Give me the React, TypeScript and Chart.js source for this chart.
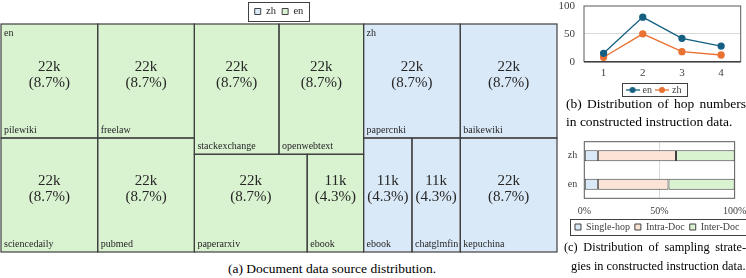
import React, { useEffect, useRef } from 'react';
import { Chart, registerables } from 'chart.js';

Chart.register(...registerables);

const FONT = "'Liberation Serif', 'Times New Roman', Times, serif";
const TEXT = '#262626';
const AXIS_TEXT = '#404040';
const EDGE = '#404040';

// ---------- (a) document data sources (thousands of documents) ----------
const languages = ['zh', 'en'];
const enSources = ['pilewiki', 'freelaw', 'sciencedaily', 'pubmed', 'stackexchange', 'openwebtext', 'paperarxiv', 'ebook'];
const enCounts = [22, 22, 22, 22, 22, 22, 22, 11];
const zhSources = ['papercnki', 'baikewiki', 'ebook', 'chatglmfin', 'kepuchina'];
const zhCounts = [22, 22, 11, 11, 22];

// split structure of each language group: direction, then children (leaf index or sub-tree)
type Tree = (string | number | Tree)[];
const enTree: Tree = ['x', ['y', ['x', 0, 1], ['x', 2, 3]], ['y', ['x', 4, 5], ['x', 6, 7]]];
const zhTree: Tree = ['y', ['x', 0, 1], ['x', 2, 3, 4]];

// ---------- (b) hop numbers ----------
const hopLabels = ['1', '2', '3', '4'];
const hopEn = [15, 80, 42, 28];
const hopZh = [8, 50, 18, 12];
const hopTicks = [0, 50, 100];

// ---------- (c) sampling strategies (%) ----------
const strategyLangs = ['zh', 'en'];
const singleHop = [9, 9];
const intraDoc = [52, 47];
const interDoc = [39, 44];

const EN_FILL = '#D9F2D0';
const ZH_FILL = '#DAE9F8';
const INTRA_FILL = '#FBE3D6';
const EN_LINE = '#156082';
const ZH_LINE = '#E97132';

interface Cell { name: string; value: number; lang: string; x0: number; y0: number; x1: number; y1: number; }

const sum = (a: number[]) => a.reduce((s, v) => s + v, 0);

function treeSum(node: any, counts: number[]): number {
  if (typeof node === 'number') return counts[node];
  return (node as any[]).slice(1).reduce((s: number, c: any) => s + treeSum(c, counts), 0);
}

function layoutTree(node: any, counts: number[], names: string[], lang: string,
  x0: number, y0: number, x1: number, y1: number, out: Cell[]) {
  if (typeof node === 'number') {
    out.push({ name: names[node], value: counts[node], lang, x0, y0, x1, y1 });
    return;
  }
  const dir = node[0];
  const kids = node.slice(1);
  const total = treeSum(node, counts);
  let acc = 0;
  kids.forEach((k: any) => {
    const v = treeSum(k, counts);
    const a = acc / total, b = (acc + v) / total;
    if (dir === 'x') layoutTree(k, counts, names, lang, x0 + (x1 - x0) * a, y0, x0 + (x1 - x0) * b, y1, out);
    else layoutTree(k, counts, names, lang, x0, y0 + (y1 - y0) * a, x1, y0 + (y1 - y0) * b, out);
    acc += v;
  });
}

function buildTreemap() {
  const enTotal = sum(enCounts), zhTotal = sum(zhCounts), total = enTotal + zhTotal;
  const split = enTotal / total;
  const cells: Cell[] = [];
  layoutTree(enTree, enCounts, enSources, 'en', 0, 0, split, 1, cells);
  layoutTree(zhTree, zhCounts, zhSources, 'zh', split, 0, 1, 1, cells);
  const groups = [{ lang: 'en', x0: 0, y0: 0 }, { lang: 'zh', x0: split, y0: 0 }];
  return { cells, groups, total };
}

const treemapPlugin = {
  id: 'treemapCells',
  afterDatasetsDraw(chart: any) {
    const { ctx } = chart;
    const xs = chart.scales.x, ys = chart.scales.y;
    const { cells, groups, total } = buildTreemap();
    const rects = cells.map(c => ({
      c,
      L: xs.getPixelForValue(c.x0), R: xs.getPixelForValue(c.x1),
      T: ys.getPixelForValue(c.y0), B: ys.getPixelForValue(c.y1),
    }));
    ctx.save();
    rects.forEach(({ c, L, R, T, B }) => {
      ctx.fillStyle = c.lang === 'en' ? EN_FILL : ZH_FILL;
      ctx.fillRect(L, T, R - L, B - T);
    });
    ctx.strokeStyle = EDGE;
    ctx.lineWidth = 1.2;
    rects.forEach(({ L, R, T, B }) => ctx.strokeRect(L, T, R - L, B - T));
    ctx.fillStyle = TEXT;
    ctx.textAlign = 'center';
    ctx.textBaseline = 'middle';
    ctx.font = `15px ${FONT}`;
    rects.forEach(({ c, L, R, T, B }) => {
      const cx = (L + R) / 2;
      const mid = Math.min(T + 51, B - 63);
      ctx.fillText(`${c.value}k`, cx, mid - 8);
      ctx.fillText(`(${((c.value / total) * 100).toFixed(1)}%)`, cx, mid + 8.5);
    });
    ctx.font = `10px ${FONT}`;
    ctx.textAlign = 'left';
    rects.forEach(({ c, L, B }) => ctx.fillText(c.name, L + 3, B - 8));
    groups.forEach(g => ctx.fillText(g.lang, xs.getPixelForValue(g.x0) + 3, ys.getPixelForValue(g.y0) + 9));
    ctx.restore();
  },
};

const legendFramePlugin = {
  id: 'legendFrame',
  afterDraw(chart: any, _args: any, opts: any) {
    const lg = chart.legend;
    if (!lg || !lg.legendHitBoxes || !lg.legendHitBoxes.length) return;
    const hb = lg.legendHitBoxes;
    const l = Math.min(...hb.map((h: any) => h.left)) - opts.padL;
    const r = Math.max(...hb.map((h: any) => h.left + h.width)) + opts.padR;
    const t = Math.min(...hb.map((h: any) => h.top)) - opts.padT;
    const b = Math.max(...hb.map((h: any) => h.top + h.height)) + opts.padB;
    const { ctx } = chart;
    ctx.save();
    ctx.strokeStyle = opts.color || '#404040';
    ctx.lineWidth = 1;
    ctx.strokeRect(Math.round(l) + 0.5, Math.round(t) + 0.5, Math.round(r - l), Math.round(b - t));
    ctx.restore();
  },
};

const plotFramePlugin = {
  id: 'plotFrame',
  beforeDatasetsDraw(chart: any, _args: any, opts: any) {
    const { ctx, chartArea: a } = chart;
    ctx.save();
    ctx.strokeStyle = opts.color || '#595959';
    ctx.lineWidth = 1;
    ctx.strokeRect(a.left, a.top, a.right - a.left, a.bottom - a.top);
    if (opts.bottomColor) {
      ctx.strokeStyle = opts.bottomColor;
      ctx.lineWidth = 1.5;
      ctx.beginPath();
      ctx.moveTo(a.left, a.bottom);
      ctx.lineTo(a.right, a.bottom);
      ctx.stroke();
    }
    ctx.restore();
  },
};

// keep tick labels visible even when they reach beyond the (narrow) axis box
const fitAxis = (dim: 'width' | 'height', size: number) => (s: any) => {
  s[dim] = size;
  s._computeLabelArea = () => undefined;
};

function lineMarker(color: string) {
  const c = document.createElement('canvas');
  c.width = 14;
  c.height = 8;
  const g = c.getContext('2d')!;
  g.strokeStyle = color;
  g.lineWidth = 1.3;
  g.beginPath();
  g.moveTo(0, 4);
  g.lineTo(14, 4);
  g.stroke();
  g.fillStyle = color;
  g.beginPath();
  g.arc(7, 4, 3, 0, Math.PI * 2);
  g.fill();
  return c;
}

function makeTreemap(canvas: HTMLCanvasElement) {
  return new Chart(canvas, {
    type: 'scatter',
    data: {
      datasets: languages.map(l => ({
        label: l,
        data: [],
        backgroundColor: l === 'en' ? EN_FILL : ZH_FILL,
        borderColor: EDGE,
        borderWidth: 1,
      })),
    },
    options: {
      animation: false,
      responsive: false,
      events: [],
      layout: { padding: { left: 1, right: 3, top: 0, bottom: 4 } },
      scales: {
        x: { type: 'linear', display: false, min: 0, max: 1 },
        y: { type: 'linear', display: false, min: 0, max: 1, reverse: true },
      },
      plugins: {
        legend: {
          position: 'top',
          maxHeight: 24,
          labels: { boxWidth: 6, boxHeight: 6, padding: 6.25, color: TEXT, font: { family: FONT, size: 10.5 } },
        },
        tooltip: { enabled: false },
        legendFrame: { padL: 7, padR: 5, padT: 4.25, padB: 4.25 },
      } as any,
    },
    plugins: [treemapPlugin, legendFramePlugin],
  } as any);
}

function makeLine(canvas: HTMLCanvasElement) {
  const markers = [lineMarker(EN_LINE), lineMarker(ZH_LINE)];
  return new Chart(canvas, {
    type: 'line',
    data: {
      labels: hopLabels,
      datasets: [
        { label: 'en', data: hopEn, borderColor: EN_LINE, backgroundColor: EN_LINE, pointBackgroundColor: EN_LINE, pointBorderColor: EN_LINE, borderWidth: 1.3, pointRadius: 3 },
        { label: 'zh', data: hopZh, borderColor: ZH_LINE, backgroundColor: ZH_LINE, pointBackgroundColor: ZH_LINE, pointBorderColor: ZH_LINE, borderWidth: 1.3, pointRadius: 3 },
      ],
    },
    options: {
      animation: false,
      responsive: false,
      events: [],
      layout: { padding: { left: 10.7, right: 2.7, top: 16, bottom: 0 } },
      scales: {
        x: {
          offset: true,
          grid: { display: false, drawTicks: false },
          border: { display: false },
          ticks: { color: AXIS_TEXT, font: { family: FONT, size: 11 }, padding: 4.4 },
          afterFit: fitAxis('height', 18.3),
        },
        y: {
          min: 0,
          max: 100,
          afterBuildTicks: (s: any) => { s.ticks = hopTicks.map(v => ({ value: v })); },
          grid: { color: (c: any) => (c.tick && c.tick.value === 50 ? '#D9D9D9' : 'rgba(0,0,0,0)'), drawTicks: false },
          border: { display: false },
          ticks: { color: AXIS_TEXT, font: { family: FONT, size: 11 }, padding: 9 },
          afterFit: fitAxis('width', 18.3),
        },
      },
      plugins: {
        legend: {
          position: 'bottom',
          labels: {
            usePointStyle: true,
            pointStyleWidth: 10,
            padding: 5,
            color: AXIS_TEXT,
            font: { family: FONT, size: 10 },
            generateLabels: (chart: any) =>
              Chart.defaults.plugins.legend.labels.generateLabels(chart).map((it: any, i: number) => ({ ...it, pointStyle: markers[i] })),
          },
        },
        tooltip: { enabled: false },
        legendFrame: { padL: 6, padR: 5, padT: 1.7, padB: 1.7 },
        plotFrame: { color: '#595959', bottomColor: '#404040' },
      } as any,
    },
    plugins: [legendFramePlugin, plotFramePlugin],
  } as any);
}

function makeBar(canvas: HTMLCanvasElement) {
  const common = { borderColor: EDGE, borderWidth: 1, borderSkipped: false, categoryPercentage: 1, barPercentage: 0.39 };
  return new Chart(canvas, {
    type: 'bar',
    data: {
      labels: strategyLangs,
      datasets: [
        { label: 'Single-hop', data: singleHop, backgroundColor: ZH_FILL, ...common },
        { label: 'Intra-Doc', data: intraDoc, backgroundColor: INTRA_FILL, ...common },
        { label: 'Inter-Doc', data: interDoc, backgroundColor: EN_FILL, ...common },
      ],
    },
    options: {
      indexAxis: 'y',
      animation: false,
      responsive: false,
      events: [],
      layout: { padding: { left: 6.4, right: 0, top: 13.7, bottom: 0 } },
      scales: {
        x: {
          stacked: true,
          min: 0,
          max: 100,
          ticks: { stepSize: 50, color: AXIS_TEXT, font: { family: FONT, size: 10 }, padding: 6.7, callback: (v: any) => `${v}%` },
          grid: { color: (c: any) => (c.tick && c.tick.value === 50 ? '#D9D9D9' : 'rgba(0,0,0,0)'), drawTicks: false },
          border: { display: false },
          afterFit: fitAxis('height', 18.7),
        },
        y: {
          stacked: true,
          grid: { display: false, drawTicks: false },
          border: { display: false },
          ticks: { color: AXIS_TEXT, font: { family: FONT, size: 10 }, padding: 7 },
          afterFit: fitAxis('width', 22.9),
        },
      },
      plugins: {
        legend: {
          position: 'bottom',
          labels: { boxWidth: 6, boxHeight: 6, padding: 5, color: AXIS_TEXT, font: { family: FONT, size: 10 } },
        },
        tooltip: { enabled: false },
        legendFrame: { padL: 5, padR: 7, padT: 3, padB: 3 },
        plotFrame: { color: '#595959' },
      } as any,
    },
    plugins: [legendFramePlugin, plotFramePlugin],
  } as any);
}

const cap: React.CSSProperties = {
  position: 'absolute',
  fontFamily: FONT,
  fontSize: 13.5,
  lineHeight: '18px',
  color: '#000',
  whiteSpace: 'nowrap',
};
const justify: React.CSSProperties = { textAlign: 'justify', textAlignLast: 'justify' as any, whiteSpace: 'normal' };

export default function App() {
  const aRef = useRef<HTMLCanvasElement>(null);
  const bRef = useRef<HTMLCanvasElement>(null);
  const cRef = useRef<HTMLCanvasElement>(null);

  useEffect(() => {
    const charts = [makeTreemap(aRef.current!), makeLine(bRef.current!), makeBar(cRef.current!)];
    return () => charts.forEach(c => c.destroy());
  }, []);

  return (
    <div style={{ position: 'absolute', left: 0, top: 0, width: 746, height: 278, overflow: 'hidden', background: '#fff' }}>
      <canvas ref={aRef} width={560} height={256} style={{ position: 'absolute', left: 0, top: 0, width: 560, height: 256 }} />
      <canvas ref={bRef} width={191} height={115} style={{ position: 'absolute', left: 555, top: -10, width: 191, height: 115 }} />
      <canvas ref={cRef} width={198} height={114} style={{ position: 'absolute', left: 555, top: 128, width: 198, height: 114 }} />
      <div style={{ ...cap, left: 228, top: 260 }}>(a) Document data source distribution.</div>
      <div style={{ ...cap, ...justify, left: 566, top: 95, width: 180 }}>(b) Distribution of hop numbers</div>
      <div style={{ ...cap, left: 566, top: 113 }}>in constructed instruction data.</div>
      <div style={{ ...cap, ...justify, fontSize: 12.3, left: 564, top: 238, width: 182 }}>(c) Distribution of sampling strate-</div>
      <div style={{ ...cap, fontSize: 12.3, left: 571, top: 257 }}>gies in constructed instruction data.</div>
    </div>
  );
}
